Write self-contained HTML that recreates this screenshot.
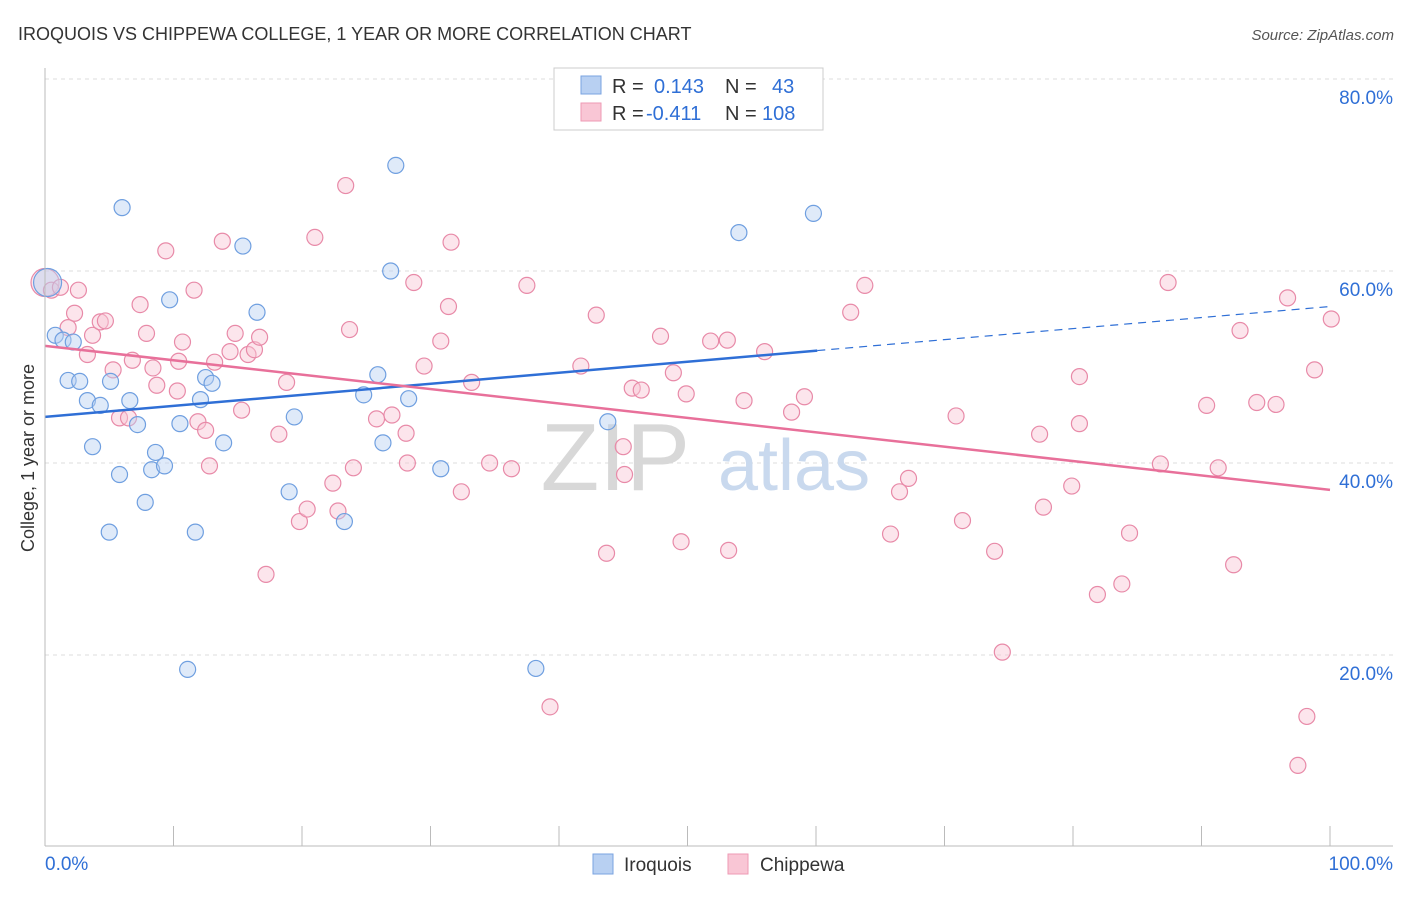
<!DOCTYPE html>
<html><head><meta charset="utf-8"><style>
body{margin:0;background:#fff;font-family:"Liberation Sans",sans-serif;}
svg text{font-family:"Liberation Sans",sans-serif;}
</style></head><body>
<svg id="chart" width="1406" height="892" xmlns="http://www.w3.org/2000/svg">
<text x="18" y="40" font-size="18" fill="#333">IROQUOIS VS CHIPPEWA COLLEGE, 1 YEAR OR MORE CORRELATION CHART</text>
<text x="1394" y="40" font-size="15" fill="#555" text-anchor="end" font-style="italic">Source: ZipAtlas.com</text>
<g id="grid"></g>
<text x="690" y="490" font-size="96" fill="#d8d8d8" text-anchor="end" font-family="Liberation Serif">ZIP</text>
<text x="718" y="490" font-size="72" fill="#c9d9ee">atlas</text>
<g id="pts"></g>
<g id="axes"></g>
<text x="34" y="458" font-size="18" fill="#333" text-anchor="middle" transform="rotate(-90 34 458)">College, 1 year or more</text>
<g>
<rect x="554" y="68" width="269" height="62" fill="#fff" stroke="#ccc"/>
<rect x="581" y="76" width="20" height="18" fill="#b8d0f2" stroke="#7aa3e0"/>
<rect x="581" y="103" width="20" height="18" fill="#f9c6d5" stroke="#ee9ab4"/>
<text x="612" y="93" font-size="20" fill="#333">R = </text><text x="654" y="93" font-size="20" fill="#2f6fd6">0.143</text>
<text x="725" y="93" font-size="20" fill="#333">N = </text><text x="772" y="93" font-size="20" fill="#2f6fd6">43</text>
<text x="612" y="120" font-size="20" fill="#333">R = </text><text x="646" y="120" font-size="20" fill="#2f6fd6">-0.411</text>
<text x="725" y="120" font-size="20" fill="#333">N = </text><text x="762" y="120" font-size="20" fill="#2f6fd6">108</text>
</g>
<g>
<rect x="593" y="854" width="20" height="20" fill="#b8d0f2" stroke="#7aa3e0"/>
<text x="624" y="871" font-size="19" fill="#333">Iroquois</text>
<rect x="728" y="854" width="20" height="20" fill="#f9c6d5" stroke="#ee9ab4"/>
<text x="760" y="871" font-size="19" fill="#333">Chippewa</text>
</g>
</svg>
<script>
const blueX=[0.2,0.8,1.4,2.2,1.8,2.7,3.3,4.3,5.1,6.6,3.7,5.8,5.0,7.2,7.8,8.6,8.3,9.3,6.0,9.7,11.1,10.5,11.7,12.1,12.5,13.0,13.9,15.4,16.5,19.0,19.4,23.3,24.8,25.9,26.3,26.9,27.3,28.3,30.8,38.2,43.8,54.0,59.8];
const blueY=[58.8,53.3,52.8,52.6,48.6,48.5,46.5,46.0,48.5,46.5,41.7,38.8,32.8,44.0,35.9,41.1,39.3,39.7,66.6,57.0,18.5,44.1,32.8,46.6,48.9,48.3,42.1,62.6,55.7,37.0,44.8,33.9,47.1,49.2,42.1,60.0,71.0,46.7,39.4,18.6,44.3,64.0,66.0];
const pinkX=[0,0.5,1.2,2.6,1.8,2.3,3.3,3.7,4.3,4.7,5.3,5.8,6.5,6.8,7.4,7.9,8.4,8.7,9.4,10.4,10.7,10.3,11.6,11.9,12.5,12.8,13.2,13.8,14.4,14.8,15.3,15.8,16.3,16.7,17.2,18.2,18.8,19.8,20.4,21.0,22.4,22.8,23.4,23.7,24.0,25.8,27.0,28.1,28.2,28.7,29.5,30.8,31.4,31.6,32.4,33.2,34.6,36.3,37.5,39.3,41.7,42.9,43.7,45.0,45.1,45.7,46.4,47.9,48.9,49.5,49.9,51.8,53.2,53.1,54.4,56.0,58.1,59.1,62.7,63.8,65.8,66.5,67.2,70.9,71.4,73.9,74.5,77.4,77.7,79.9,80.5,80.5,81.9,83.8,84.4,86.8,87.4,90.4,91.3,92.5,93.0,94.3,95.8,96.7,98.8,98.2,97.5,100.1];
const pinkY=[58.8,58.0,58.3,58.0,54.1,55.6,51.3,53.3,54.7,54.8,49.7,44.7,44.7,50.7,56.5,53.5,49.9,48.1,62.1,50.6,52.6,47.5,58.0,44.3,43.4,39.7,50.5,63.1,51.6,53.5,45.5,51.3,51.8,53.1,28.4,43.0,48.4,33.9,35.2,63.5,37.9,35.0,68.9,53.9,39.5,44.6,45.0,43.1,40.0,58.8,50.1,52.7,56.3,63.0,37.0,48.4,40.0,39.4,58.5,14.6,50.1,55.4,30.6,41.7,38.8,47.8,47.6,53.2,49.4,31.8,47.2,52.7,30.9,52.8,46.5,51.6,45.3,46.9,55.7,58.5,32.6,37.0,38.4,44.9,34.0,30.8,20.3,43.0,35.4,37.6,49.0,44.1,26.3,27.4,32.7,39.9,58.8,46.0,39.5,29.4,53.8,46.3,46.1,57.2,49.7,13.6,8.5,55.0];
const blueTrend=[44.8,56.3];
const pinkTrend=[52.2,37.2];
const blueSolidEnd=60.1;
const yTicks=[20,40,60,80];
const yTickLabels=["20.0%","40.0%","60.0%","80.0%"];
const xTicks=[0,10,20,30,40,50,60,70,80,90,100];

const NS="http://www.w3.org/2000/svg";
const sx=v=>45+v*12.85;
const sy=v=>847-v*9.6;
function mk(tag,attrs,parent){const e=document.createElementNS(NS,tag);for(const k in attrs)e.setAttribute(k,attrs[k]);parent.appendChild(e);return e;}
const grid=document.getElementById('grid'),axes=document.getElementById('axes'),pts=document.getElementById('pts');
yTicks.forEach((t,i)=>{
 const l=mk('line',{x1:45,x2:1393,y1:sy(t),y2:sy(t),stroke:'#ddd','stroke-dasharray':'4 4'},grid);
 
 
 const tx=mk('text',{x:1393,y:sy(t)+25,'font-size':19,fill:'#2f6fd6','text-anchor':'end'},axes);
 tx.textContent=yTickLabels[i];
 
 
});
const ay=mk('line',{x1:45,x2:45,y1:68,y2:846,stroke:'#bbb'},axes);


const ax=mk('line',{x1:45,x2:1393,y1:846,y2:846,stroke:'#bbb'},axes);


xTicks.forEach(t=>{
 const l=mk('line',{x1:sx(t),x2:sx(t),y1:826,y2:846,stroke:'#bbb'},axes);
 
 
});
const x0=mk('text',{x:45,y:870,'font-size':19,fill:'#2f6fd6'},axes);x0.textContent='0.0%';


const x1=mk('text',{x:1393,y:870,'font-size':19,fill:'#2f6fd6','text-anchor':'end'},axes);x1.textContent='100.0%';


function dot(x,y,fill,stroke,r,name){
 const c=mk('circle',{cx:sx(x),cy:sy(y),r:r,fill:fill,'fill-opacity':0.45,stroke:stroke,'stroke-width':1.2},pts);
 
 
}
pinkX.forEach((x,i)=>dot(x,pinkY[i],'#f9c6d5','#e88aa8',i===0?14:8,'chippewa-point'));
blueX.forEach((x,i)=>dot(x,blueY[i],'#b8d0f2','#6f9fe0',i===0?14:8,'iroquois-point'));
const bAt=x=>blueTrend[0]+(blueTrend[1]-blueTrend[0])*x/100;
const pAt=x=>pinkTrend[0]+(pinkTrend[1]-pinkTrend[0])*x/100;
const bl=mk('line',{x1:sx(0),y1:sy(bAt(0)),x2:sx(blueSolidEnd),y2:sy(bAt(blueSolidEnd)),stroke:'#2f6fd6','stroke-width':2.5},pts);


const bd=mk('line',{x1:sx(blueSolidEnd),y1:sy(bAt(blueSolidEnd)),x2:sx(100),y2:sy(bAt(100)),stroke:'#2f6fd6','stroke-width':1.2,'stroke-dasharray':'8 6'},pts);


const pl=mk('line',{x1:sx(0),y1:sy(pAt(0)),x2:sx(100),y2:sy(pAt(100)),stroke:'#e8709a','stroke-width':2.5},pts);


</script>
</body></html>
